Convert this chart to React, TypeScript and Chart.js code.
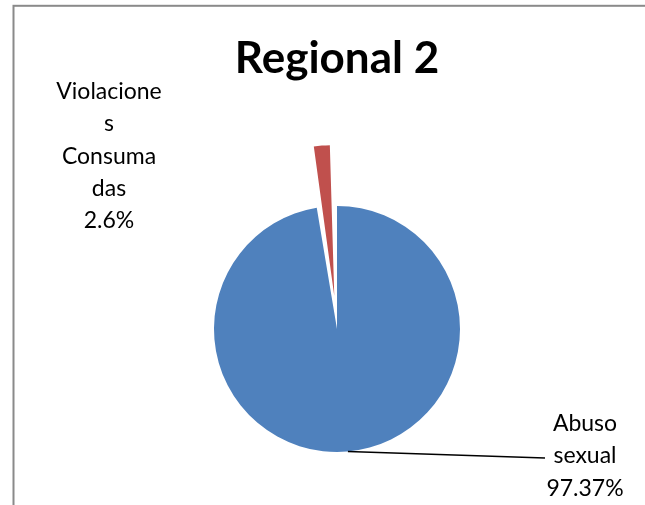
import React, { useEffect, useRef } from "react";
import { Chart, registerables } from "chart.js";

Chart.register(...registerables);

const titleText = "Regional 2";
const categories = ["Abuso sexual", "Violaciones Consumadas"];
const values = [37, 1];
const percentLabels = ["97.37%", "2.6%"];
const labelLines = [
  ["Abuso", "sexual", percentLabels[0]],
  ["Violacione", "s", "Consuma", "das", percentLabels[1]],
];
const sliceColors = ["#4F81BD", "#C0504D"];

const decorPlugin = {
  id: "decor",
  beforeDraw(chart: any) {
    const ctx = chart.ctx;
    ctx.save();
    ctx.fillStyle = "#ffffff";
    ctx.fillRect(0, 0, chart.width, chart.height);
    ctx.strokeStyle = "#8a8a8a";
    ctx.lineWidth = 2;
    ctx.strokeRect(13.5, 5.8, 700, 600);
    ctx.restore();
  },
  afterDatasetsDraw(chart: any) {
    const ctx = chart.ctx;
    const meta = chart.getDatasetMeta(0);
    const arc = meta.data[0];
    const cx = arc.x;
    const cy = arc.y;
    const r = arc.outerRadius;
    ctx.save();
    const a = (84.9 * Math.PI) / 180;
    ctx.strokeStyle = "#000";
    ctx.lineWidth = 1.5;
    ctx.beginPath();
    ctx.moveTo(cx + r * Math.cos(a), cy + r * Math.sin(a));
    ctx.lineTo(cx + 208, cy + 129);
    ctx.stroke();

    ctx.fillStyle = "#000";
    ctx.font = "23px Lato";
    ctx.textAlign = "center";
    ctx.textBaseline = "alphabetic";
    const lh = 32.3;
    labelLines[0].forEach((t, i) => ctx.fillText(t, cx + 248, cy + 102 + i * lh));
    labelLines[1].forEach((t, i) => ctx.fillText(t, cx - 228, cy - 230 + i * lh));
    ctx.restore();
  },
};

export default function App() {
  const ref = useRef<HTMLCanvasElement>(null);
  useEffect(() => {
    if (!ref.current) return;
    const chart = new Chart(ref.current, {
      type: "pie",
      data: {
        labels: categories,
        datasets: [
          {
            data: values,
            backgroundColor: sliceColors,
            borderWidth: 0,
            offset: [0, 133],
          },
        ],
      },
      options: {
        responsive: false,
        animation: false,
        radius: 123,
        layout: { padding: { left: 29, right: 0, top: 0, bottom: 0 } },
        plugins: {
          legend: { display: false },
          tooltip: { enabled: false },
          title: {
            display: true,
            text: titleText,
            color: "#000",
            font: { family: "Lato", size: 44, weight: "bold" },
            padding: { top: 32.5, bottom: 67.7 },
          },
        },
      } as any,
      plugins: [decorPlugin],
    });
    return () => chart.destroy();
  }, []);
  return (
    <canvas
      ref={ref}
      width={645}
      height={505}
      style={{ position: "fixed", left: 0, top: 0 }}
    />
  );
}
